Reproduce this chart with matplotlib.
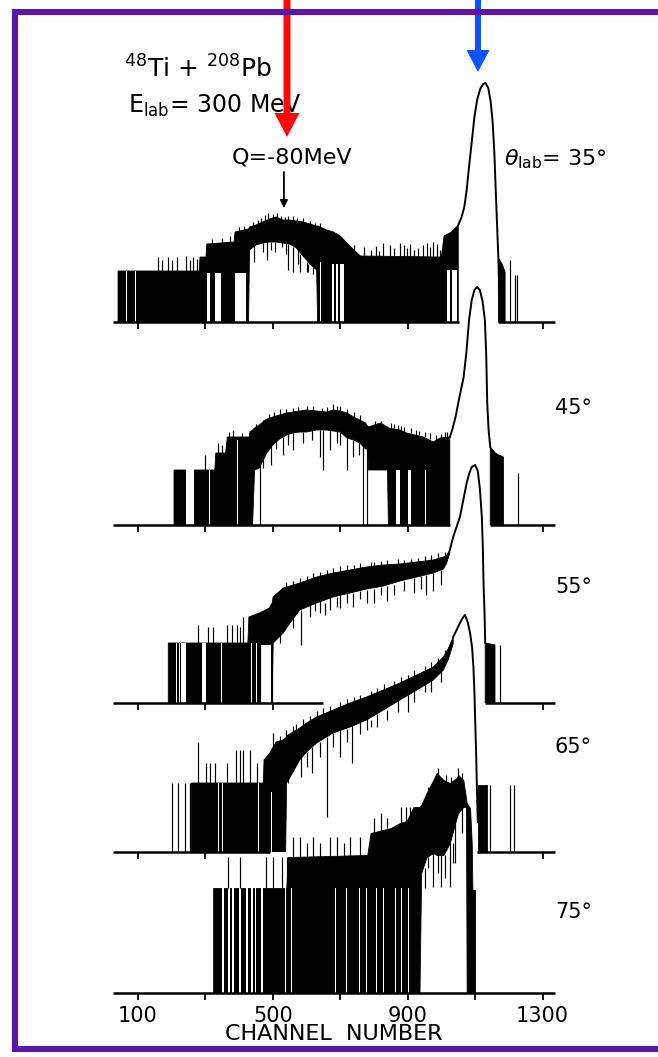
import numpy as np
import matplotlib.pyplot as plt
from matplotlib.patches import FancyArrow

plt.rcParams['font.family'] = ['DejaVu Sans']
plt.rcParams['mathtext.fontset'] = 'dejavusans'

nan = np.nan

# channel axis shared by all spectra
tick_ch = [100, 300, 500, 700, 900, 1100, 1300]
tick_txt = ['100', '', '500', '', '900', '', '1300']
angles = [35, 45, 55, 65, 75]

# each spectrum: noisy band (channel, lower edge, upper edge) in log-count units,
# zero-count gaps (from, to, height), single channels (channel, bottom, top),
# the elastic peak line and the stretches where the baseline is hidden

# ---- theta_lab = 35 deg ----
ch_35 = [41, 155, 282, 284, 302, 304, 385, 388, 428, 431, 450, 470, 490, 510, 530, 550, 570, 590, 610, 630, 633,
         660, 680, 700, 720, 740, 760, 1000, 1008, 1030, 1050, nan, 1169, 1180, 1189]
hi_35 = [51, 51, 51, 65, 65, 78, 80, 90, 93, 95, 97, 100, 103, 105, 102, 102, 101, 100, 98, 96, 96,
         92, 90, 86, 79, 72, 66, 65, 86, 90, 97, nan, 64, 58, 50]
lo_35 = [0, 0, 0, 0, 0, 0, 0, 0, 0, 72, 77, 79, 80, 80, 79, 78, 74, 66, 58, 52, 0,
         0, 0, 0, 0, 0, 0, 0, 0, 0, 0, nan, 0, 0, 0]
gaps_35 = [(64, 67, 51), (90, 93, 51), (306, 313, 49), (328, 345, 49), (388, 421, 49), (640, 643, 60),
           (676, 681, 58), (688, 694, 58), (700, 712, 58), (1017, 1027, 52), (1032, 1045, 52)]
spikes_35 = [(160, 51, 65), (170, 51, 62), (190, 51, 65), (200, 51, 62), (215, 51, 65), (244, 51, 66),
             (254, 51, 62), (264, 51, 65), (274, 51, 63),
             (320, 78, 83), (350, 79, 84), (372, 80, 86), (400, 90, 95), (415, 91, 96),
             (440, 94, 100), (455, 96, 102), (466, 98, 104), (476, 100, 107), (486, 102, 109), (501, 104, 108),
             (512, 103, 109), (524, 101, 106), (535, 100, 105), (545, 101, 106), (560, 100, 106), (571, 99, 104),
             (590, 99, 104), (610, 96, 101), (624, 94, 99), (640, 92, 99),
             (740, 70, 77), (770, 64, 75), (790, 64, 72), (805, 64, 76), (815, 64, 71), (828, 64, 79),
             (847, 64, 77), (860, 64, 74), (877, 64, 79), (890, 64, 77), (897, 64, 74), (907, 64, 78),
             (920, 64, 72), (930, 64, 74), (945, 64, 77), (956, 64, 79), (965, 64, 75), (976, 64, 80),
             (986, 64, 78), (995, 64, 72),
             (445, 60, 77), (470, 70, 79), (482, 62, 80), (495, 72, 80), (506, 70, 80), (526, 75, 80),
             (540, 68, 79), (546, 52, 78), (561, 50, 75), (575, 58, 74), (580, 50, 68), (600, 50, 60),
             (605, 50, 58), (620, 48, 55),
             (1204, 0, 62), (1218, 0, 47), (1224, 0, 47)]
peak_ch_35 = [1050, 1060, 1068, 1075, 1082, 1090, 1098, 1106, 1115, 1124, 1131, 1139, 1146, 1152, 1157, 1162,
              1166, 1169, 1172]
peak_h_35 = [97, 105, 115, 132, 155, 180, 205, 222, 233, 238, 239, 234, 221, 200, 170, 125, 90, 64, 30]
breaks_35 = [(1052, 1169)]

# ---- 45 deg ----
ch_45 = [207, 242, 266, 328, 331, 360, 365, 430, 432, 440, 446, 460, 482, 500, 520, 541, 560, 580, 600, 630,
         660, 680, 700, 720, 740, 758, 775, 781, 784, 800, 820, 840, 843, 877, 897, 946, 976, 996, 1025,
         nan, 1145, 1160, 1170, 1184]
hi_45 = [55, 55, 55, 55, 72, 72, 88, 88, 93, 95, 97, 100, 106, 108, 110, 112, 113, 114, 115, 114,
         113, 115, 114, 112, 108, 105, 102, 99, 98, 100, 102, 98, 97, 95, 92, 88, 83, 87, 88,
         nan, 78, 72, 70, 68]
lo_45 = [0, 0, 0, 0, 0, 0, 0, 0, 0, 0, 55, 57, 72, 80, 86, 90, 92, 93, 93, 95,
         95, 94, 93, 87, 85, 82, 76, 76, 55, 55, 55, 55, 0, 0, 0, 0, 0, 0, 0,
         nan, 0, 0, 0, 0]
gaps_45 = [(243, 266, 56), (310, 313, 55), (395, 398, 85), (866, 876, 55), (902, 911, 55), (950, 953, 55)]
spikes_45 = [(300, 55, 70), (338, 72, 82), (350, 72, 80), (370, 88, 93), (383, 88, 95), (410, 88, 92),
             (462, 0, 60), (768, 0, 82), (778, 0, 80),
             (450, 96, 101), (470, 99, 105), (490, 106, 111), (505, 108, 113), (520, 110, 116), (540, 111, 116),
             (560, 113, 117), (575, 113, 118), (600, 115, 119), (620, 114, 119), (645, 113, 117), (660, 113, 118),
             (680, 115, 121), (689, 115, 119), (700, 114, 119), (720, 111, 116), (740, 108, 113), (760, 104, 110),
             (803, 100, 104), (820, 100, 104), (850, 97, 102), (860, 97, 101), (870, 95, 100), (880, 95, 99),
             (890, 93, 98), (910, 92, 97), (925, 90, 95), (935, 90, 94), (950, 88, 93), (965, 86, 92),
             (985, 84, 90), (1000, 85, 91), (1010, 86, 93), (1018, 87, 93),
             (470, 57, 75), (495, 60, 80), (510, 76, 90), (530, 70, 88), (545, 80, 92), (560, 75, 92),
             (590, 82, 93), (615, 85, 95), (640, 68, 95), (650, 55, 95), (670, 75, 95), (690, 82, 94),
             (700, 80, 93), (719, 55, 87), (738, 68, 85), (755, 70, 85),
             (1228, 0, 52)]
peak_ch_45 = [1025, 1032, 1042, 1050, 1058, 1066, 1074, 1082, 1090, 1098, 1106, 1114, 1122, 1129, 1133, 1136,
              1140, 1145]
peak_h_45 = [88, 95, 108, 122, 135, 148, 172, 205, 225, 235, 238, 235, 224, 205, 170, 122, 95, 78]
breaks_45 = [(1027, 1144)]

# ---- 55 deg ----
ch_55 = [190, 426, 429, 460, 490, 498, 501, 531, 551, 580, 630, 679, 729, 778, 828, 877, 927, 976, 1006, 1016,
         1025, nan, 1130, 1159]
hi_55 = [60, 60, 86, 90, 95, 100, 106, 115, 117, 120, 126, 130, 133, 136, 138, 139, 141, 143, 146, 148,
         153, nan, 60, 58]
lo_55 = [0, 0, 0, 0, 0, 0, 60, 70, 80, 93, 100, 106, 110, 114, 117, 122, 126, 130, 134, 140,
         150, nan, 0, 0]
gaps_55 = [(213, 216, 60), (223, 226, 60), (229, 244, 60), (289, 303, 60), (346, 350, 60), (436, 439, 60),
           (451, 454, 60), (465, 494, 58)]
spikes_55 = [(279, 60, 78), (308, 60, 76), (323, 60, 76), (363, 60, 78), (378, 60, 78), (393, 60, 78),
             (402, 60, 76), (412, 60, 86), (462, 0, 90), (497, 0, 100),
             (520, 106, 113), (540, 113, 121), (560, 117, 122), (580, 120, 125), (600, 120, 127), (620, 124, 130),
             (640, 126, 131), (660, 126, 133), (680, 130, 135), (700, 130, 137), (720, 132, 138), (740, 133, 138),
             (760, 133, 140), (790, 136, 141), (800, 136, 141), (820, 136, 142), (840, 137, 143), (870, 138, 144),
             (890, 138, 143), (910, 139, 144), (930, 140, 145), (950, 140, 147), (970, 142, 148), (990, 143, 150),
             (1010, 146, 151),
             (520, 60, 80), (560, 75, 90), (585, 58, 93), (610, 86, 100), (625, 92, 100), (640, 90, 102),
             (655, 88, 100), (669, 93, 106), (690, 96, 106), (699, 95, 108), (720, 100, 110), (738, 96, 110),
             (760, 104, 112), (780, 100, 113), (800, 100, 114), (820, 108, 116), (840, 102, 117), (860, 108, 118),
             (890, 112, 122), (920, 110, 125), (940, 114, 127), (955, 108, 128), (975, 112, 130), (1000, 118, 133),
             (1174, 0, 58)]
peak_ch_55 = [1025, 1035, 1045, 1055, 1065, 1075, 1083, 1090, 1100, 1108, 1114, 1120, 1123, 1125, 1128, 1130]
peak_h_55 = [153, 166, 176, 186, 203, 220, 230, 236, 238, 232, 215, 186, 155, 120, 90, 60]
breaks_55 = [(650, 1130)]

# ---- 65 deg ----
ch_65 = [259, 472, 474, 491, 510, 531, 538, 541, 560, 580, 600, 630, 679, 729, 778, 828, 877, 927, 976, 1006,
         1020, 1035, nan, 1108, 1134]
hi_65 = [69, 69, 92, 99, 110, 112, 114, 116, 120, 124, 129, 135, 142, 149, 155, 162, 169, 177, 185, 195,
         203, 215, nan, 67, 67]
lo_65 = [0, 0, 0, 0, 0, 0, 0, 69, 80, 92, 100, 109, 119, 125, 132, 142, 152, 162, 172, 182,
         192, 208, nan, 0, 0]
gaps_65 = [(336, 341, 69), (350, 353, 69), (455, 458, 69), (494, 498, 60)]
spikes_65 = [(200, 0, 69), (219, 0, 69), (239, 0, 69), (254, 0, 69),
             (279, 69, 110), (303, 69, 89), (313, 69, 89), (328, 69, 89), (363, 69, 89), (392, 69, 102),
             (402, 69, 102), (412, 69, 102), (432, 69, 102), (452, 69, 89),
             (501, 99, 119), (520, 110, 116), (540, 116, 122), (560, 118, 126), (570, 122, 128), (590, 126, 133),
             (610, 130, 136), (630, 135, 141), (650, 137, 144), (670, 140, 146), (700, 144, 150), (720, 147, 153),
             (740, 149, 155), (760, 151, 157), (790, 155, 161), (810, 157, 164), (830, 162, 168), (860, 165, 171),
             (880, 169, 175), (900, 171, 177), (920, 176, 182), (950, 179, 186), (970, 184, 190), (990, 188, 194),
             (1010, 196, 202),
             (545, 69, 85), (585, 75, 100), (600, 85, 100), (615, 79, 105), (640, 95, 110), (660, 35, 115),
             (680, 105, 119), (699, 95, 122), (720, 110, 123), (734, 89, 127), (760, 118, 130), (778, 122, 134),
             (790, 125, 132), (808, 125, 138), (840, 132, 142), (870, 140, 152), (900, 140, 157), (920, 150, 162),
             (950, 160, 168), (970, 160, 172), (1000, 170, 182),
             (1144, 0, 67), (1204, 0, 67), (1214, 0, 67)]
peak_ch_65 = [1035, 1045, 1055, 1063, 1070, 1078, 1085, 1091, 1095, 1098, 1100, 1103, 1105, 1108]
peak_h_65 = [215, 222, 229, 234, 237, 230, 219, 205, 185, 160, 135, 100, 69, 30]
breaks_65 = [(492, 1105)]

# ---- 75 deg ----
ch_75 = [323, 540, 545, 780, 790, 850, 877, 897, 917, 935, 940, 956, 976, 986, 1006, 1025, 1045, 1050, 1065,
         1073, 1075, 1085, 1090, 1092, 1100]
hi_75 = [105, 105, 136, 138, 160, 165, 170, 172, 186, 186, 188, 200, 213, 220, 213, 210, 215, 218, 213,
         195, 190, 185, 150, 103, 103]
lo_75 = [0, 0, 0, 0, 0, 0, 0, 0, 0, 0, 120, 136, 140, 138, 138, 150, 175, 180, 186,
         186, 0, 0, 0, 0, 0]
gaps_75 = [(350, 355, 105), (366, 372, 105), (380, 386, 105), (401, 405, 105), (421, 425, 105), (436, 440, 105),
           (446, 450, 105), (466, 470, 105), (535, 538, 105), (555, 558, 105), (683, 686, 105), (718, 721, 105),
           (757, 760, 105), (777, 780, 105), (807, 810, 105), (827, 830, 105), (861, 864, 105), (881, 884, 105),
           (901, 904, 105)]
spikes_75 = [(368, 105, 136), (402, 105, 136), (481, 105, 136), (501, 105, 136), (526, 105, 136), (541, 105, 136),
             (561, 136, 156), (580, 136, 156), (600, 136, 150), (620, 136, 156), (640, 136, 150), (670, 136, 156),
             (690, 136, 156), (710, 136, 150), (730, 136, 156), (758, 136, 156),
             (800, 160, 175), (820, 160, 180), (840, 165, 175), (880, 170, 186), (895, 172, 186), (907, 175, 186),
             (960, 200, 206), (990, 218, 225), (1015, 212, 218), (1030, 210, 216), (1050, 215, 225),
             (1060, 213, 220),
             (950, 105, 125), (960, 125, 136), (976, 106, 140), (990, 120, 140), (1000, 106, 138),
             (1010, 115, 138), (1025, 106, 150), (1035, 130, 150), (1040, 130, 170), (1060, 160, 186)]
peak_ch_75 = []
peak_h_75 = []
breaks_75 = []

spectra = [
    (ch_35, lo_35, hi_35, gaps_35, spikes_35, peak_ch_35, peak_h_35, breaks_35),
    (ch_45, lo_45, hi_45, gaps_45, spikes_45, peak_ch_45, peak_h_45, breaks_45),
    (ch_55, lo_55, hi_55, gaps_55, spikes_55, peak_ch_55, peak_h_55, breaks_55),
    (ch_65, lo_65, hi_65, gaps_65, spikes_65, peak_ch_65, peak_h_65, breaks_65),
    (ch_75, lo_75, hi_75, gaps_75, spikes_75, peak_ch_75, peak_h_75, breaks_75),
]

# label heights above each baseline
label_h = [157, 111, 110, 99, 75]

# layout in pixels
W, H = 658, 1057
left, right = 113, 555
xlim = (26, 1337)
ptop = 260
baselines = [322, 525, 703, 852, 993]

fig = plt.figure(figsize=(W / 100, H / 100), dpi=100)

axes = []
for i, (ch, lo, hi, gaps, spikes, pch, ph, breaks) in enumerate(spectra):
    yb = baselines[i]
    ax = fig.add_axes([left / W, 1 - yb / H, (right - left) / W, ptop / H])
    ax.set_xlim(*xlim)
    ax.set_ylim(0, ptop)
    ax.patch.set_visible(False)
    for s in ax.spines.values():
        s.set_visible(False)
    ax.set_yticks([])

    ax.fill_between(ch, lo, hi, color='black', lw=0.6, zorder=2)
    for a, b, top in gaps:
        ax.bar(a, top, width=b - a, align='edge', color='white', lw=0, zorder=3)
    sx, s0, s1 = zip(*spikes)
    ax.vlines(sx, s0, s1, color='black', lw=0.85, zorder=4)
    if pch:
        ax.plot(pch, ph, color='black', lw=1.4, zorder=4, solid_joinstyle='round')

    # baseline, left open where the spectrum below runs through it
    edges = [xlim[0]] + [v for br in breaks for v in br] + [xlim[1]]
    starts, ends = edges[0::2], edges[1::2]
    ax.hlines([0] * len(starts), starts, ends, color='black', lw=1.8, zorder=5, clip_on=False)

    shown = [t for t in tick_ch if not any(a < t < b for a, b in breaks)]
    ax.set_xticks(shown)
    ax.tick_params(axis='x', direction='out', length=5, width=1.3, color='black', labelbottom=False)

    if i > 0:
        ax.text(1.0, label_h[i], f'{angles[i]}°', transform=ax.get_yaxis_transform(),
                fontsize=15, ha='left', va='baseline')
    axes.append(ax)

# channel labels on the lowest spectrum only
axb = axes[-1]
axb.set_xticks(tick_ch)
axb.set_xticklabels(tick_txt)
axb.tick_params(axis='x', labelbottom=True, labelsize=15, pad=4)
axb.set_xlabel('CHANNEL  NUMBER', fontsize=16, labelpad=-1)

# reaction and Q-value annotation on the 35 deg spectrum
ax35 = axes[0]
ax35.text(59, 244, r'$^{48}$Ti + $^{208}$Pb', fontsize=18, va='baseline')
ax35.text(70, 209, r'E$_{\rm lab}$= 300 MeV', fontsize=17, va='baseline')
ax35.text(379, 159, 'Q=-80MeV', fontsize=16, va='baseline')
q_ch = 533
ax35.annotate('', xy=(q_ch, 114), xytext=(q_ch, 150), annotation_clip=False,
              arrowprops=dict(arrowstyle='-|>', color='black', lw=1.3, mutation_scale=11,
                              shrinkA=0, shrinkB=0))
ax35.text(1186, 157, r'$\theta_{\rm lab}$= 35°', fontsize=16, va='baseline')

# frame and highlight arrows on top
ov = fig.add_axes([0, 0, 1, 1], zorder=10)
ov.set_xlim(0, W)
ov.set_ylim(H, 0)
ov.axis('off')
ov.patch.set_visible(False)
purple = '#5c16a8'
ov.plot([W + 20, 15, 15, W + 20], [11.5, 11.5, 1049, 1049], color=purple, lw=4.4,
        solid_joinstyle='miter', clip_on=False)
ov.add_patch(FancyArrow(287, 0, 0, 137, width=7, head_width=25, head_length=24,
                        length_includes_head=True, color='#ff0a0a', lw=0))
ov.add_patch(FancyArrow(478, 0, 0, 72, width=6, head_width=23, head_length=22,
                        length_includes_head=True, color='#0a55ff', lw=0))

fig.savefig('out.png', dpi=100)
